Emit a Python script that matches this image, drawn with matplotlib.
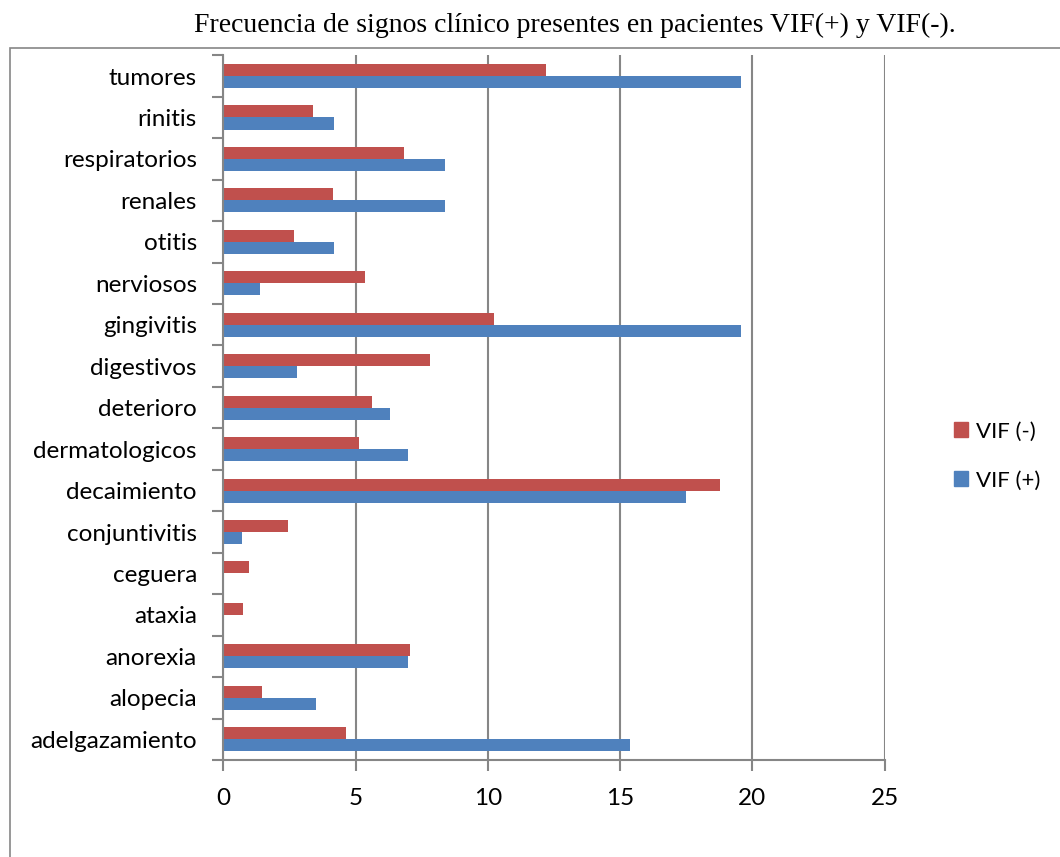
import matplotlib
matplotlib.use('Agg')
import matplotlib.pyplot as plt
from matplotlib.patches import Rectangle, Patch
import numpy as np

# categories from bottom to top, as in the source sheet
signos = ['adelgazamiento', 'alopecia', 'anorexia', 'ataxia', 'ceguera',
          'conjuntivitis', 'decaimiento', 'dermatologicos', 'deterioro',
          'digestivos', 'gingivitis', 'nerviosos', 'otitis', 'renales',
          'respiratorios', 'rinitis', 'tumores']
vif_neg = [4.63, 1.46, 7.07, 0.73, 0.98, 2.44, 18.78, 5.12, 5.61, 7.80,
           10.24, 5.37, 2.68, 4.15, 6.83, 3.41, 12.20]
vif_pos = [15.38, 3.50, 6.99, 0.0, 0.0, 0.70, 17.48, 6.99, 6.29, 2.80,
           19.58, 1.40, 4.20, 8.39, 8.39, 4.20, 19.58]

red = '#C0504D'
blue = '#4F81BD'
gris = '#868686'

W, H = 1060, 857
fig = plt.figure(figsize=(W / 100, H / 100), dpi=100)
ax = fig.add_axes([223.3 / W, (H - 760) / H, (884.5 - 223.3) / W, (760 - 55.3) / H])

y = np.arange(len(signos))
bh = 0.29
ax.barh(y + bh / 2, vif_neg, height=bh, color=red, label='VIF (-)', zorder=3)
ax.barh(y - bh / 2, vif_pos, height=bh, color=blue, label='VIF (+)', zorder=3)

ax.set_xlim(0, 25)
ax.set_ylim(-0.5, len(signos) - 0.5)
ax.set_xticks(np.arange(0, 26, 5))
ax.set_yticks(y)
ax.set_yticklabels(signos)
ax.set_yticks(np.arange(-0.5, len(signos), 1), minor=True)

lblfont = 'Lato'
for t in ax.get_yticklabels() + ax.get_xticklabels():
    t.set_fontfamily(lblfont)
    t.set_fontsize(17.5)

ax.tick_params(axis='y', which='major', length=0, pad=19)
ax.tick_params(axis='y', which='minor', length=8, width=1.5, color=gris, direction='out')
ax.tick_params(axis='x', which='major', length=8, width=1.5, color=gris, direction='out', pad=12)

ax.grid(axis='x', color=gris, linewidth=1.5, zorder=0)
ax.set_axisbelow(True)
for s in ['top', 'right']:
    ax.spines[s].set_visible(False)
for s in ['left', 'bottom']:
    ax.spines[s].set_color(gris)
    ax.spines[s].set_linewidth(1.5)
    ax.spines[s].set_zorder(4)

# legend, red item on top
handles = [Patch(color=red, label='VIF (-)'), Patch(color=blue, label='VIF (+)')]
fig.legend(handles=handles, loc='center left', bbox_to_anchor=(934 / W, 1 - 456 / H),
           frameon=False, prop={'family': lblfont, 'size': 16},
           handlelength=0.65, handleheight=0.65, handletextpad=0.35, labelspacing=1.3)

# chart area border
fig.patches.append(Rectangle((10 / W, -0.1), 1.2, (H - 48) / H + 0.1,
                             transform=fig.transFigure, fill=False,
                             edgecolor=gris, linewidth=1.2, clip_on=False))

fig.text(575 / W, 1 - 25 / H, 'Frecuencia de signos clínico presentes en pacientes VIF(+) y VIF(-).',
         ha='center', va='center', fontfamily='Liberation Serif', fontsize=20)

fig.savefig('out.png', dpi=100)
